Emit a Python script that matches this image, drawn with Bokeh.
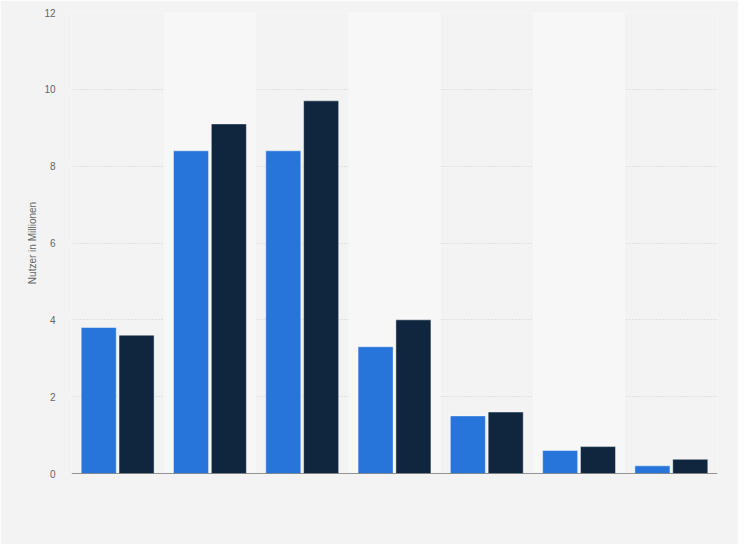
from bokeh.plotting import figure
from bokeh.models import Range1d, Span, FixedTicker, ColumnDataSource
from bokeh.embed import file_html
from bokeh.resources import INLINE

# Data
groups = [0, 1, 2, 3, 4, 5, 6]
series_a = [3.8, 8.4, 8.4, 3.3, 1.5, 0.6, 0.2]
series_b = [3.6, 9.1, 9.7, 4.0, 1.6, 0.7, 0.37]
y_ticks = [0, 2, 4, 6, 8, 10, 12]
y_label = "Nutzer in Millionen"
band_groups = [1, 3, 5]

BLUE = "#2775db"
NAVY = "#0f263e"
BG = "#f3f3f3"
BAND = "#f7f7f7"

p = figure(width=738, height=544, output_backend="svg", toolbar_location=None,
           x_range=Range1d(-0.5, 6.5), y_range=Range1d(0, 12),
           min_border_left=71, min_border_right=21, min_border_top=12,
           min_border_bottom=71)
p.background_fill_color = BG
p.border_fill_color = BG
p.outline_line_color = None

# alternating bands
p.vbar(x=band_groups, width=1.0, top=12, bottom=0, fill_color=BAND,
       line_color=None)

off = 0.205
bw = 0.38
src = ColumnDataSource(dict(
    xa=[g - off for g in groups], xb=[g + off for g in groups],
    a=series_a, b=series_b))
p.vbar(x="xa", top="a", width=bw, source=src, fill_color=BLUE,
       line_color="white", line_alpha=0.45, line_width=1)
p.vbar(x="xb", top="b", width=bw, source=src, fill_color=NAVY,
       line_color="white", line_alpha=0.45, line_width=1)

# axes
p.xaxis.visible = False
p.xgrid.visible = False
p.yaxis.ticker = FixedTicker(ticks=y_ticks)
p.yaxis.axis_line_color = None
p.yaxis.major_tick_line_color = None
p.yaxis.minor_tick_line_color = None
p.yaxis.major_label_text_color = "#666666"
p.yaxis.major_label_text_font = "Liberation Sans"
p.yaxis.major_label_text_font_size = "10px"
p.yaxis.major_label_standoff = 10
p.yaxis.axis_label = y_label
p.yaxis.axis_label_text_font = "Liberation Sans"
p.yaxis.axis_label_text_font_style = "normal"
p.yaxis.axis_label_text_font_size = "10px"
p.yaxis.axis_label_text_color = "#666666"
p.yaxis.axis_label_standoff = 3

p.ygrid.grid_line_color = "#cfcfcf"
p.ygrid.grid_line_dash = "1 2"
p.ygrid.grid_line_width = 1

p.add_layout(Span(location=0, dimension="width", line_color="#333333",
                  line_width=1.2))

open("out.html", "w").write(file_html(p, INLINE))
